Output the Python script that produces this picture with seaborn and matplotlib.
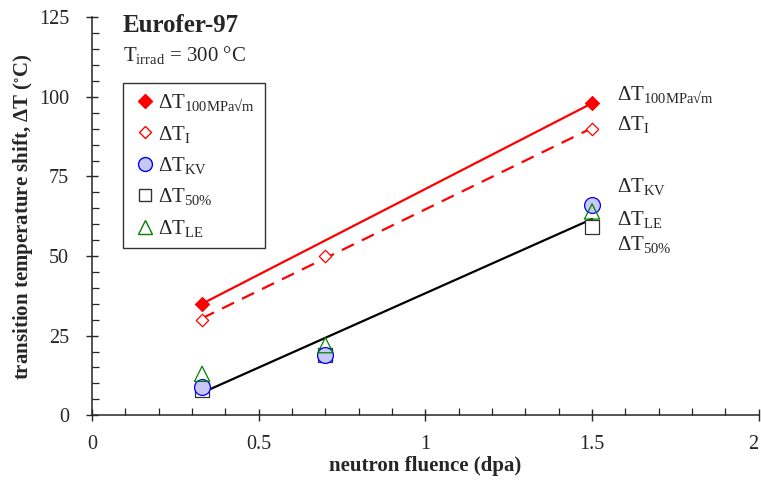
import pandas as pd
import numpy as np
import matplotlib
matplotlib.use('Agg')
import matplotlib.pyplot as plt
import seaborn as sns
from matplotlib.lines import Line2D
from matplotlib.ticker import MultipleLocator

# data
fluence = [0.33, 0.7, 1.5]
dt_100 = [35, np.nan, 98]
dt_i = [30, 50, 90]
dt_kv = [9, 19, 66]
dt_50 = [8, 19, 59]
dt_le = [13, 22, 64]

x_ticks = [0, 0.5, 1, 1.5, 2]
x_ticklabels = ['0', '0.5', '1', '1.5', '2']
y_ticks = [0, 25, 50, 75, 100, 125]

sns.set_style('ticks')
plt.rcParams['font.family'] = ['Liberation Serif', 'DejaVu Serif']
plt.rcParams['mathtext.fontset'] = 'custom'
plt.rcParams['mathtext.rm'] = 'Liberation Serif'
plt.rcParams['mathtext.it'] = 'Liberation Serif:italic'
plt.rcParams['mathtext.bf'] = 'Liberation Serif:bold'
plt.rcParams['mathtext.fallback'] = 'stix'

fig = plt.figure(figsize=(7.61, 4.8), dpi=100)
ax = fig.add_axes([0.121, 0.135, 0.876, 0.829])

df = pd.DataFrame({'x': fluence, 'd100': dt_100, 'di': dt_i,
                   'kv': dt_kv, 'd50': dt_50, 'le': dt_le})
# the black line is one fit through KV, 50% and LE together
low = df.melt(id_vars='x', value_vars=['kv', 'd50', 'le'])

sns.regplot(x='x', y='d100', data=df.dropna(), ax=ax, scatter=False, ci=None,
            truncate=True, line_kws=dict(color='red', lw=1.6))
sns.regplot(x='x', y='di', data=df, ax=ax, scatter=False, ci=None,
            truncate=True, line_kws=dict(color='red', lw=1.6, ls=(0, (6, 4))))
sns.regplot(x='x', y='value', data=low, ax=ax, scatter=False, ci=None,
            truncate=True, line_kws=dict(color='black', lw=1.6))

sns.scatterplot(x='x', y='d50', data=df, ax=ax, marker='s', s=110,
                facecolor='white', edgecolor='#333333', linewidth=0.9, zorder=3)
sns.scatterplot(x='x', y='kv', data=df, ax=ax, marker='o', s=130,
                color='#c8c8f4', edgecolor='blue', linewidth=0.9, zorder=4)
sns.scatterplot(x='x', y='le', data=df, ax=ax, marker='^', s=120,
                facecolor='none', edgecolor='green', linewidth=0.9, zorder=5)
sns.scatterplot(x='x', y='di', data=df, ax=ax, marker='D', s=40,
                facecolor='white', edgecolor='red', linewidth=0.9, zorder=5)
sns.scatterplot(x='x', y='d100', data=df, ax=ax, marker='D', s=50,
                color='red', edgecolor='red', linewidth=0.9, zorder=6)

ax.set_xlim(0, 2)
ax.set_ylim(0, 125)
ax.set_xticks(x_ticks, x_ticklabels)
ax.set_yticks(y_ticks)
ax.get_xticklabels()[-1].set_horizontalalignment('right')
ax.xaxis.set_minor_locator(MultipleLocator(0.1))
ax.yaxis.set_minor_locator(MultipleLocator(5))
ax.tick_params(which='major', direction='inout', length=9, width=1, labelsize=14.5)
ax.tick_params(which='minor', direction='in', length=5, width=0.9)
ax.tick_params(axis='x', pad=10)
ax.tick_params(axis='y', pad=12)
ax.spines['top'].set_visible(False)
ax.spines['right'].set_visible(False)
for s in ['left', 'bottom']:
    ax.spines[s].set_linewidth(1.1)

ax.set_xlabel('neutron fluence (dpa)', fontsize=15, fontweight='bold', labelpad=1)
ax.set_ylabel(r'transition temperature shift, $\mathbf{\Delta}$T ($^{\circ}$C)',
              fontsize=15, fontweight='bold', labelpad=3)

ax.text(0.046, 0.98, 'Eurofer-97', transform=ax.transAxes, fontsize=18,
        fontweight='bold', va='center')
ax.text(0.046, 0.905, r'T$_{\mathrm{irrad}}$ = 300 °C', transform=ax.transAxes,
        fontsize=15, va='center')

lab100 = r'$\Delta\mathrm{T}_{\mathrm{100MPa√m}}$'
lab_i = r'$\Delta\mathrm{T}_{\mathrm{I}}$'
lab_kv = r'$\Delta\mathrm{T}_{\mathrm{KV}}$'
lab_50 = r'$\Delta\mathrm{T}_{\mathrm{50\%}}$'
lab_le = r'$\Delta\mathrm{T}_{\mathrm{LE}}$'

handles = [
    Line2D([], [], ls='none', marker='D', ms=7, color='red'),
    Line2D([], [], ls='none', marker='D', ms=6, mfc='white', mec='red'),
    Line2D([], [], ls='none', marker='o', ms=10, mfc='#c8c8f4', mec='blue'),
    Line2D([], [], ls='none', marker='s', ms=9, mfc='white', mec='#333333'),
    Line2D([], [], ls='none', marker='^', ms=10, mfc='none', mec='green'),
]
leg = ax.legend(handles, [lab100, lab_i, lab_kv, lab_50, lab_le],
                loc='upper left', bbox_to_anchor=(0.046, 0.834), fontsize=15,
                frameon=True, fancybox=False, edgecolor='black',
                handletextpad=0.05, labelspacing=0.5, borderpad=0.45,
                handlelength=1.2, borderaxespad=0)
leg.get_frame().set_linewidth(1.0)

# labels on the right of the lines
ax.text(1.574, 99.0, lab100, fontsize=15, va='baseline')
ax.text(1.574, 89.5, lab_i, fontsize=15, va='baseline')
ax.text(1.574, 70.0, lab_kv, fontsize=15, va='baseline')
ax.text(1.574, 59.7, lab_le, fontsize=15, va='baseline')
ax.text(1.574, 52.0, lab_50, fontsize=15, va='baseline')

fig.savefig('out.png', dpi=100)
